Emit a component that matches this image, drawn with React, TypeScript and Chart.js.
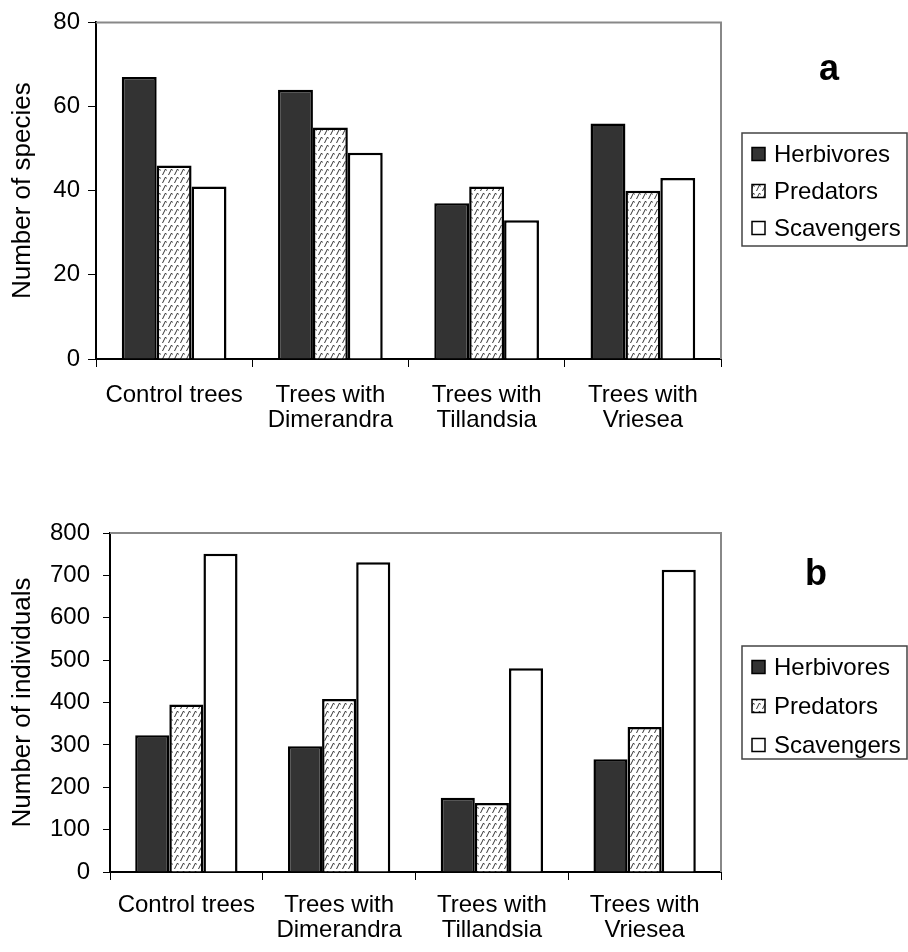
import React, { useEffect, useRef } from "react";
import { Chart, registerables } from "chart.js";

Chart.register(...registerables);

const categories: (string | string[])[] = [
  "Control trees",
  ["Trees with", "Dimerandra"],
  ["Trees with", "Tillandsia"],
  ["Trees with", "Vriesea"],
];
const seriesNames = ["Herbivores", "Predators", "Scavengers"];

const speciesHerbivores = [67, 64, 37, 56];
const speciesPredators = [46, 55, 41, 40];
const speciesScavengers = [41, 49, 33, 43];

const individualsHerbivores = [323, 297, 175, 266];
const individualsPredators = [395, 408, 163, 342];
const individualsScavengers = [751, 731, 481, 713];

const FONT = "'Liberation Sans', Arial, sans-serif";

function makePattern(): CanvasPattern | string {
  const c = document.createElement("canvas");
  c.width = 6;
  c.height = 8;
  const ctx = c.getContext("2d");
  if (!ctx) return "#ccc";
  ctx.fillStyle = "#ffffff";
  ctx.fillRect(0, 0, 6, 8);
  ctx.strokeStyle = "#333";
  ctx.lineWidth = 1;
  ctx.beginPath();
  ctx.moveTo(0.5, 7);
  ctx.lineTo(3.5, 1);
  ctx.lineTo(4.5, 2.5);
  ctx.stroke();
  const p = ctx.createPattern(c, "repeat");
  return p || "#ccc";
}

type Cfg = {
  height: number;
  values: number[][];
  yMax: number;
  yStep: number;
  yTitle: string;
  padTop: number;
  yWidth: number;
  xHeight: number;
  yTickLen: number;
  yTickPad: number;
  xTickPad: number;
  letter: string;
  letterX: number;
  letterY: number;
  legendTop: number;
  rowGap: number;
};

function BarPanel(props: Cfg) {
  const ref = useRef<HTMLCanvasElement | null>(null);
  useEffect(() => {
    if (!ref.current) return;
    const pattern = makePattern();
    const fills: (string | CanvasPattern)[] = ["#333333", pattern, "#ffffff"];
    const overlay = {
      id: "overlay",
      afterDraw(chart: any) {
        const ctx = chart.ctx as CanvasRenderingContext2D;
        const a = chart.chartArea;
        ctx.save();
        ctx.strokeStyle = "#888";
        ctx.lineWidth = 2;
        ctx.beginPath();
        ctx.moveTo(a.left, a.top);
        ctx.lineTo(a.right, a.top);
        ctx.lineTo(a.right, a.bottom);
        ctx.stroke();
        ctx.fillStyle = "#000";
        ctx.font = `bold 36px ${FONT}`;
        ctx.textAlign = "center";
        ctx.textBaseline = "middle";
        ctx.fillText(props.letter, props.letterX, props.letterY);
        const lt = props.legendTop;
        ctx.strokeStyle = "#444";
        ctx.lineWidth = 1.5;
        ctx.strokeRect(742, lt, 165, 113);
        ctx.font = `24px ${FONT}`;
        ctx.textAlign = "left";
        seriesNames.forEach((name, i) => {
          const cy = lt + 21 + i * props.rowGap;
          ctx.fillStyle = fills[i] as any;
          ctx.fillRect(752, cy - 6.5, 13, 13);
          ctx.strokeStyle = "#000";
          ctx.lineWidth = 1.5;
          ctx.strokeRect(752, cy - 6.5, 13, 13);
          ctx.fillStyle = "#000";
          ctx.fillText(name, 774, cy + 1);
        });
        ctx.restore();
      },
    };
    const chart = new Chart(ref.current, {
      type: "bar",
      data: {
        labels: categories,
        datasets: seriesNames.map((n, i) => ({
          label: n,
          data: props.values[i],
          backgroundColor: fills[i] as any,
          borderColor: "#000",
          borderWidth: 2.5,
          categoryPercentage: 0.67,
          barPercentage: 1,
        })),
      },
      options: {
        animation: false,
        responsive: false,
        maintainAspectRatio: false,
        layout: { padding: { left: 0, right: 187, top: props.padTop, bottom: 0 } },
        plugins: {
          legend: { display: false },
          tooltip: { enabled: false },
        },
        scales: {
          x: {
            afterFit: (s: any) => {
              s.height = props.xHeight;
            },
            grid: {
              drawOnChartArea: false,
              drawTicks: true,
              tickLength: 8,
              color: "#000",
              offset: true,
            },
            border: { color: "#000", width: 2 },
            ticks: {
              color: "#000",
              font: { family: FONT, size: 24, lineHeight: 1.05 },
              padding: props.xTickPad,
              maxRotation: 0,
              autoSkip: false,
            },
          },
          y: {
            min: 0,
            max: props.yMax,
            afterFit: (s: any) => {
              s.width = props.yWidth;
            },
            grid: {
              drawOnChartArea: false,
              drawTicks: true,
              tickLength: props.yTickLen,
              color: "#000",
            },
            border: { color: "#000", width: 2 },
            ticks: {
              stepSize: props.yStep,
              color: "#000",
              font: { family: FONT, size: 24 },
              padding: props.yTickPad,
            },
            title: {
              display: true,
              text: props.yTitle,
              color: "#000",
              font: { family: FONT, size: 26 },
              padding: { top: 7, bottom: 0 },
            },
          },
        },
      },
      plugins: [overlay],
    } as any);
    return () => chart.destroy();
  }, []);
  return (
    <canvas
      ref={ref}
      width={908}
      height={props.height}
      style={{ display: "block", width: 908, height: props.height }}
    />
  );
}

export default function App() {
  return (
    <div style={{ position: "absolute", left: 0, top: 0, width: 908, height: 952, background: "#fff" }}>
      <BarPanel
        height={470}
        values={[speciesHerbivores, speciesPredators, speciesScavengers]}
        yMax={80}
        yStep={20}
        yTitle="Number of species"
        padTop={21}
        yWidth={96}
        xHeight={111}
        yTickLen={8}
        yTickPad={8}
        xTickPad={16}
        letter="a"
        letterX={829}
        letterY={70}
        legendTop={133}
        rowGap={37}
      />
      <BarPanel
        height={482}
        values={[individualsHerbivores, individualsPredators, individualsScavengers]}
        yMax={800}
        yStep={100}
        yTitle="Number of individuals"
        padTop={63}
        yWidth={110}
        xHeight={80}
        yTickLen={7}
        yTickPad={13}
        xTickPad={13}
        letter="b"
        letterX={816}
        letterY={105}
        legendTop={176}
        rowGap={39}
      />
    </div>
  );
}
